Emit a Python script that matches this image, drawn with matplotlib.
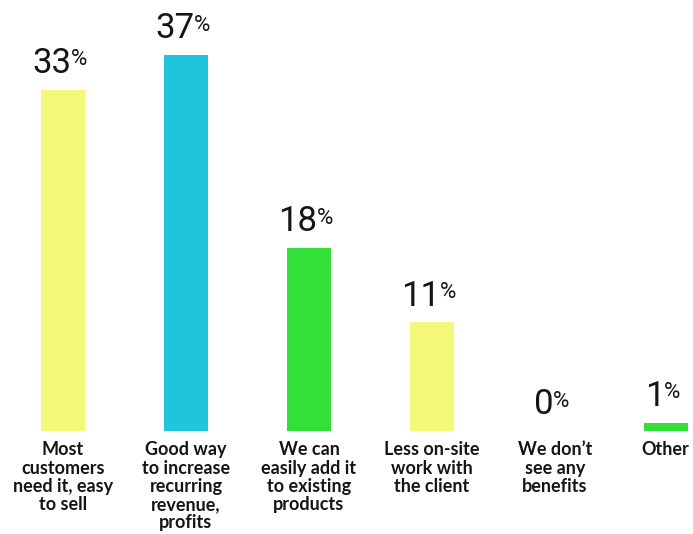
import matplotlib
matplotlib.use("Agg")
import matplotlib.pyplot as plt
import numpy as np

# survey answers, bar heights
categories = [
    "Most\ncustomers\nneed it, easy\nto sell",
    "Good way\nto increase\nrecurring\nrevenue,\nprofits",
    "We can\neasily add it\nto existing\nproducts",
    "Less on-site\nwork with\nthe client",
    "We don\u2019t\nsee any\nbenefits",
    "Other",
]
values = [33.6, 37.0, 18.0, 10.7, 0.0, 0.8]
value_labels = ["33", "37", "18", "11", "0", "1"]
colors = ["#F4F77A", "#1EC5DD", "#33E03A", "#F4F77A", "#F4F77A", "#33E03A"]

text_color = "#151515"
fonts = ["Lato", "DejaVu Sans"]
num_fonts = ["Roboto", "DejaVu Sans"]

fig = plt.figure(figsize=(6.93, 5.34), dpi=100)
ax = fig.add_axes([0, 0, 1, 1])
ax.set_xlim(-0.512, 5.122)
ax.set_ylim(-10.14, 42.42)
ax.axis("off")

x = np.arange(len(categories), dtype=float)
x[-1] = 4.9  # last column sits a bit closer in the original
ax.bar(x, values, width=0.358, color=colors, linewidth=0)

for xi, v, lab in zip(x, values, value_labels):
    num = ax.annotate(lab, xy=(xi, v), xytext=(-8, 12), textcoords="offset points",
                      ha="center", va="baseline", fontsize=25,
                      family=num_fonts, fontweight="normal", color=text_color)
    ax.annotate("%", xy=(1, 0.93), xycoords=num, xytext=(-0.5, 0),
                textcoords="offset points", ha="left", va="top", fontsize=16,
                family=num_fonts, fontweight="normal", color=text_color)

for xi, cat in zip(x, categories):
    ax.annotate(cat, xy=(xi, 0), xytext=(0, -7.5), textcoords="offset points",
                ha="center", va="top", fontsize=13, linespacing=1.08,
                family=fonts, fontweight="bold", color=text_color)

fig.savefig("out.png", dpi=100)
